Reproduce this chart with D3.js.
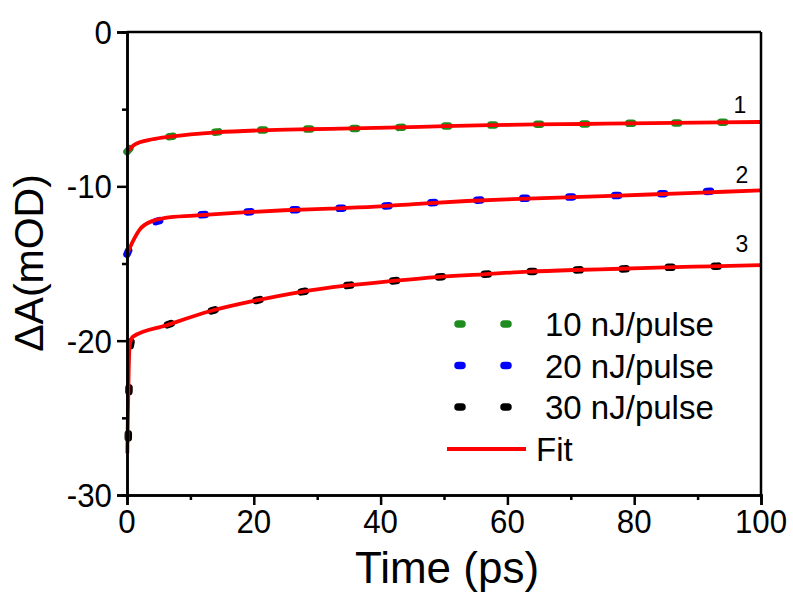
<!DOCTYPE html>
<html>
<head>
<meta charset="utf-8">
<script src="https://cdn.jsdelivr.net/npm/d3@7"></script>
<style>
  body { margin: 0; background: #fff; }
  text { font-family: "Liberation Sans", Arial, sans-serif; fill: #000; }
</style>
</head>
<body>
<script>
// measured points [time (ps), dA (mOD)]
const data10 = [[0, -7.76], [1, -7.35], [2, -7.15], [4, -6.95], [6.8, -6.78], [14.2, -6.48], [21.2, -6.35],
  [28.4, -6.29], [35.6, -6.25], [42.9, -6.18], [50.2, -6.09], [57.3, -6.03], [64.5, -5.98],
  [71.7, -5.96], [79, -5.92], [86.1, -5.9], [93.4, -5.85], [99.8, -5.83]];
const data20 = [[0, -14.4], [1, -13.5], [2, -12.8], [3.4, -12.44], [10.5, -11.9], [17.6, -11.69],
  [24.8, -11.54], [32, -11.45], [39.2, -11.32], [46.5, -11.1], [53.6, -10.93], [60.8, -10.8],
  [68, -10.72], [75.2, -10.62], [82.4, -10.52], [89.6, -10.37], [97, -10.22]];
const data30 = [[0.2, -26.3], [0.3, -23.5], [0.5, -20.4], [0.9, -19.8], [6.25, -18.99], [13.2, -18.08],
  [20.2, -17.41], [27.3, -16.85], [34.5, -16.44], [41.7, -16.14], [48.8, -15.88], [56.2, -15.7],
  [63.3, -15.53], [70.4, -15.42], [77.8, -15.36], [84.9, -15.25], [92.1, -15.18], [99.3, -15.12]];

const fit10 = [[0.2, -7.7], [1, -7.35], [2, -7.15], [4, -6.95], [6.8, -6.78], [14.2, -6.5], [21.2, -6.37],
  [28.4, -6.3], [35.6, -6.25], [42.9, -6.18], [50.2, -6.1], [57.3, -6.04], [64.5, -5.99],
  [71.7, -5.96], [79, -5.92], [86.1, -5.89], [93.4, -5.86], [100, -5.83]];
const fit20 = [[0.1, -14.3], [1, -13.5], [2, -12.8], [4.1, -12.23], [6, -12.05], [10.5, -11.9], [17.6, -11.7],
  [24.8, -11.55], [32, -11.45], [39.2, -11.32], [46.5, -11.12], [53.6, -10.95], [60.8, -10.83],
  [68, -10.73], [75.2, -10.63], [82.4, -10.53], [89.6, -10.42], [100, -10.26]];
const fit30 = [[0.05, -27.3], [0.4, -20.4], [0.9, -19.75], [6.25, -19.0], [13.2, -18.08], [20.2, -17.41],
  [27.3, -16.85], [34.5, -16.44], [41.7, -16.14], [48.8, -15.88], [56.2, -15.7], [63.3, -15.53],
  [70.4, -15.42], [77.8, -15.34], [84.9, -15.25], [92.1, -15.18], [100, -15.1]];

const seriesNames = ["10 nJ/pulse", "20 nJ/pulse", "30 nJ/pulse"];
const seriesColors = ["#1e8c1e", "#0000ff", "#000000"];
const curveLabels = ["1", "2", "3"];
const curveLabelPos = [[740, 113], [742, 183], [742, 252]];
const xTicks = [0, 20, 40, 60, 80, 100];
const xMinorTicks = [10, 30, 50, 70, 90];
const yTicks = [0, -10, -20, -30];
const yMinorTicks = [-5, -15, -25];

const width = 793, height = 593;
const x = d3.scaleLinear().domain([0, 100]).range([127, 761]);
const y = d3.scaleLinear().domain([-30, 0]).range([495, 32]);

const svg = d3.select("body").append("svg")
    .attr("width", width)
    .attr("height", height);

const line = d3.line()
    .x(d => x(d[0]))
    .y(d => y(d[1]))
    .curve(d3.curveMonotoneX);

// data drawn as dotted lines
[data10, data20, data30].forEach((s, i) => {
  svg.append("path")
      .attr("d", line(s))
      .attr("fill", "none")
      .attr("stroke", seriesColors[i])
      .attr("stroke-width", 7.5)
      .attr("stroke-linecap", "round")
      .attr("stroke-dasharray", "4 42");
});

// fits
[fit10, fit20, fit30].forEach(s => {
  svg.append("path")
      .attr("d", line(s))
      .attr("fill", "none")
      .attr("stroke", "#ff0000")
      .attr("stroke-width", 3.8);
});

// axes (labels drawn separately, slightly narrowed)
const axes = [
  svg.append("g").attr("transform", "translate(0,495)")
      .call(d3.axisBottom(x).tickValues(xTicks).tickSize(10).tickFormat("")),
  svg.append("g").attr("transform", "translate(0,495)")
      .call(d3.axisBottom(x).tickValues(xMinorTicks).tickSize(5).tickFormat("")),
  svg.append("g").attr("transform", "translate(127,0)")
      .call(d3.axisLeft(y).tickValues(yTicks).tickSize(10).tickFormat("")),
  svg.append("g").attr("transform", "translate(127,0)")
      .call(d3.axisLeft(y).tickValues(yMinorTicks).tickSize(5).tickFormat(""))
];
axes.forEach(g => {
  g.select(".domain").attr("stroke", "#000").attr("stroke-width", 2.5);
  g.selectAll(".tick line").attr("stroke", "#000").attr("stroke-width", 2.5);
});

svg.append("g").selectAll("text")
    .data(xTicks)
    .enter()
    .append("text")
    .attr("transform", d => "translate(" + x(d) + ",533) scale(0.92,1)")
    .attr("text-anchor", "middle")
    .attr("font-size", 34)
    .text(d => String(d));

svg.append("g").selectAll("text")
    .data(yTicks)
    .enter()
    .append("text")
    .attr("transform", d => "translate(112," + (y(d) + 12) + ") scale(0.92,1)")
    .attr("text-anchor", "end")
    .attr("font-size", 34)
    .text(d => String(d));

// frame top and right
svg.append("line").attr("x1", 127).attr("x2", 761).attr("y1", 32).attr("y2", 32)
    .attr("stroke", "#000").attr("stroke-width", 2.5);
svg.append("line").attr("x1", 761).attr("x2", 761).attr("y1", 32).attr("y2", 495)
    .attr("stroke", "#000").attr("stroke-width", 2.5);

// axis titles
svg.append("text")
    .attr("x", 447).attr("y", 583)
    .attr("text-anchor", "middle")
    .attr("font-size", 44)
    .text("Time (ps)");
svg.append("text")
    .attr("transform", "translate(43,263) rotate(-90)")
    .attr("text-anchor", "middle")
    .attr("font-size", 41)
    .text("\u0394A(mOD)");

// curve numbers
curveLabels.forEach((t, i) => {
  svg.append("text")
      .attr("x", curveLabelPos[i][0]).attr("y", curveLabelPos[i][1])
      .attr("text-anchor", "middle")
      .attr("font-size", 23)
      .text(t);
});

// legend
const legendY = [324, 365.5, 407];
seriesNames.forEach((name, i) => {
  svg.append("line")
      .attr("x1", 458).attr("x2", 510)
      .attr("y1", legendY[i]).attr("y2", legendY[i])
      .attr("stroke", seriesColors[i])
      .attr("stroke-width", 7.5)
      .attr("stroke-linecap", "round")
      .attr("stroke-dasharray", "4 42");
  svg.append("text")
      .attr("x", 545).attr("y", legendY[i] + 12)
      .attr("font-size", 33)
      .text(name);
});
svg.append("line")
    .attr("x1", 447).attr("x2", 526)
    .attr("y1", 449).attr("y2", 449)
    .attr("stroke", "#ff0000")
    .attr("stroke-width", 3.8);
svg.append("text")
    .attr("x", 536).attr("y", 461)
    .attr("font-size", 33)
    .text("Fit");
</script>
</body>
</html>
